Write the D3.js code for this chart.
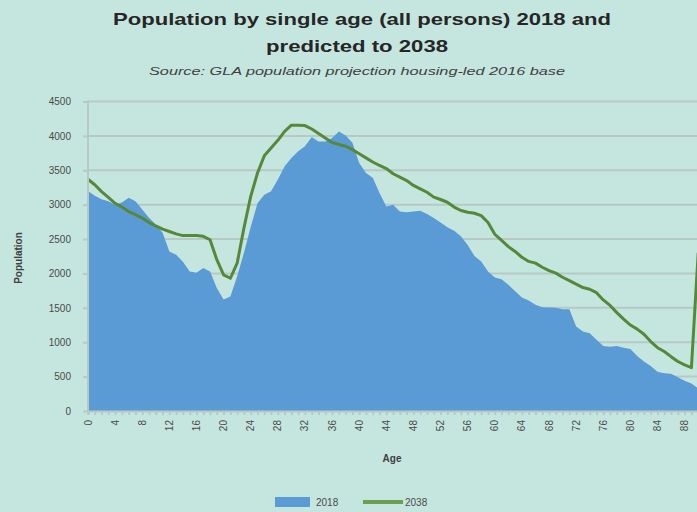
<!DOCTYPE html>
<html><head><meta charset="utf-8">
<script src="https://cdn.jsdelivr.net/npm/d3@7"></script>
<style>body{margin:0;background:#c5e6df}svg{display:block}</style>
</head><body>
<svg id="c" width="697" height="512"></svg>
<script>
const ages = d3.range(0, 91);
const pop2018 = [3200,3130,3080,3050,3000,3030,3100,3050,2930,2810,
2710,2590,2320,2270,2170,2030,2010,2080,2030,1790,
1620,1665,1960,2300,2680,3020,3145,3195,3365,3560,
3680,3775,3850,3985,3920,3920,3970,4065,4005,3900,
3605,3460,3390,3170,2975,3000,2900,2890,2900,2910,
2865,2805,2740,2670,2620,2540,2415,2255,2175,2030,
1940,1915,1835,1740,1650,1605,1545,1510,1505,1500,
1480,1480,1230,1155,1130,1035,945,935,945,920,
900,800,720,655,570,550,540,490,440,400,
330];
const pop2038 = [3370,3290,3190,3105,3020,2965,2900,2855,2805,2740,
2690,2645,2610,2575,2550,2550,2550,2540,2490,2200,
1980,1930,2150,2660,3120,3460,3710,3825,3935,4065,
4155,4155,4150,4100,4035,3970,3905,3875,3850,3800,
3740,3680,3620,3570,3525,3450,3400,3350,3280,3230,
3180,3110,3075,3035,2965,2915,2890,2875,2840,2740,
2570,2480,2390,2320,2235,2175,2150,2090,2040,2005,
1945,1895,1845,1795,1770,1720,1615,1535,1430,1335,
1250,1190,1115,1010,920,865,790,720,670,630,
2300];
const xTickLabels = ["0","4","8","12","16","20","24","28","32","36","40","44","48","52","56","60","64","68","72","76","80","84","88"];
const yTicks = [0,500,1000,1500,2000,2500,3000,3500,4000,4500];
const seriesNames = ["2018","2038"];
const titleLines = ["Population by single age (all persons) 2018 and","predicted to 2038"];
const subtitle = "Source:  GLA population projection housing-led 2016 base";

const svg = d3.select("#c");
svg.append("rect").attr("width",697).attr("height",512).attr("fill","#c5e6df");

const x = d3.scaleLinear().domain([0,90]).range([88, 88+90*6.78]);
const y = d3.scaleLinear().domain([0,4500]).range([411,101.5]);

const font = "'Liberation Sans', Arial, sans-serif";
const gridC = "#b7c9c4", txtC = "#4a4a4a";

svg.append("g").selectAll("line").data(yTicks.filter(d=>d>0)).join("line")
  .attr("x1",88).attr("x2",697).attr("y1",d=>y(d)).attr("y2",d=>y(d))
  .attr("stroke",gridC).attr("stroke-width",2);

svg.append("path").datum(ages)
  .attr("d", d3.area().x(d=>x(d)).y0(y(0)).y1(d=>y(pop2018[d])))
  .attr("fill","#5b9bd5");

svg.append("path").datum(ages)
  .attr("d", d3.line().x(d=>x(d)).y(d=>y(pop2038[d])))
  .attr("fill","none").attr("stroke","#56883a").attr("stroke-width",3).attr("stroke-linejoin","round");

const yAxis = svg.append("g").attr("transform","translate(88,0)")
  .call(d3.axisLeft(y).tickValues(yTicks).tickSize(5).tickPadding(12).tickFormat(d3.format("d")));
yAxis.select(".domain").attr("stroke",gridC).attr("stroke-width",2).attr("d","M0,100.5V412");
yAxis.selectAll(".tick line").attr("stroke",gridC).attr("stroke-width",2);
yAxis.selectAll("text").attr("font-family",font).attr("font-size",10).attr("fill",txtC);

const xAxis = svg.append("g").attr("transform","translate(0,411)")
  .call(d3.axisBottom(x).tickValues(ages).tickSize(4).tickFormat(""));
xAxis.select(".domain").attr("stroke",gridC).attr("stroke-width",2);
xAxis.selectAll(".tick line").attr("stroke",gridC).attr("stroke-width",2);
svg.append("g").selectAll("text").data(xTickLabels).join("text")
  .attr("transform",d=>`translate(${x(+d)+3.5},420) rotate(-90)`)
  .attr("text-anchor","end").attr("font-family",font).attr("font-size",10).attr("fill",txtC)
  .text(d=>d);

svg.append("text").attr("transform","translate(22,258) rotate(-90)").attr("text-anchor","middle")
  .attr("font-family",font).attr("font-size",10).attr("font-weight","bold").attr("fill","#404040").text("Population");
svg.append("text").attr("x",392).attr("y",462).attr("text-anchor","middle")
  .attr("font-family",font).attr("font-size",10).attr("font-weight","bold").attr("fill","#404040").text("Age");

svg.append("text").attr("x",362).attr("y",25).attr("text-anchor","middle")
  .attr("font-family",font).attr("font-size",17).attr("font-weight","bold").attr("fill","#262626")
  .attr("textLength",498).attr("lengthAdjust","spacingAndGlyphs").text(titleLines[0]);
svg.append("text").attr("x",357).attr("y",52).attr("text-anchor","middle")
  .attr("font-family",font).attr("font-size",17).attr("font-weight","bold").attr("fill","#262626")
  .attr("textLength",182).attr("lengthAdjust","spacingAndGlyphs").text(titleLines[1]);
svg.append("text").attr("x",357).attr("y",75).attr("text-anchor","middle")
  .attr("font-family",font).attr("font-size",10).attr("font-style","italic").attr("fill","#404040")
  .attr("textLength",416).attr("lengthAdjust","spacingAndGlyphs").text(subtitle);

const lg = svg.append("g");
lg.append("rect").attr("x",275).attr("y",497).attr("width",35).attr("height",10).attr("fill","#5b9bd5");
lg.append("text").attr("x",316).attr("y",506).attr("font-family",font).attr("font-size",10).attr("fill",txtC).text(seriesNames[0]);
lg.append("line").attr("x1",363).attr("x2",403).attr("y1",502).attr("y2",502).attr("stroke","#6aa04e").attr("stroke-width",4);
lg.append("text").attr("x",405).attr("y",506).attr("font-family",font).attr("font-size",10).attr("fill",txtC).text(seriesNames[1]);
</script>
</body></html>
